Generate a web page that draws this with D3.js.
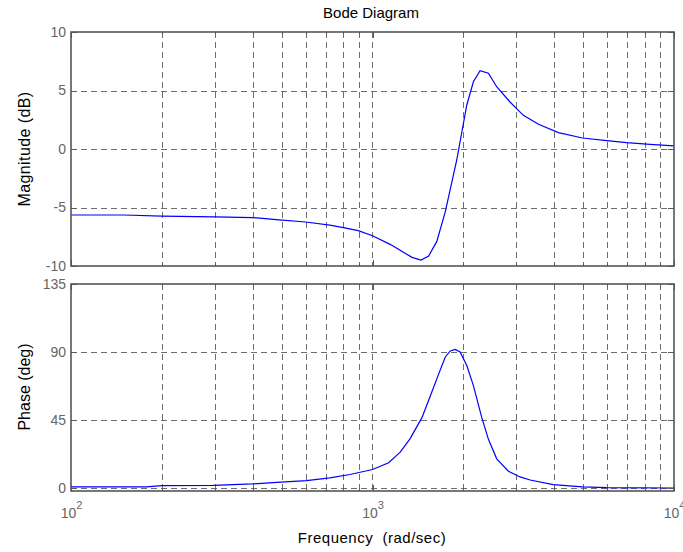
<!DOCTYPE html>
<html>
<head>
<meta charset="utf-8">
<script src="https://cdn.jsdelivr.net/npm/d3@7"></script>
<style>
  body { margin: 0; background: #fff; }
  svg { display: block; font-family: "Liberation Sans", Arial, sans-serif; }
  .grid line { stroke: #6e6e6e; stroke-width: 1; stroke-dasharray: 6,4; shape-rendering: crispEdges; }
  .axis path { display: none; }
  .axis line { stroke: #5a5a5a; shape-rendering: crispEdges; }
  .axis text { fill: #666; font-size: 14px; font-family: "Liberation Sans", Arial, sans-serif; }
</style>
</head>
<body>
<svg id="chart" width="683" height="552"></svg>
<script>
// -- magnitude readings --
const magFreq = [100, 150, 200, 300, 400, 480, 600, 722, 800, 897, 1000, 1144, 1352, 1448, 1535, 1633, 1744, 1903,
  2055, 2161, 2274, 2424, 2582, 2853, 3165, 3553, 4136, 4972, 5980, 6963, 8328, 10000];
const magDb = [-5.64, -5.64, -5.74, -5.8, -5.86, -6.03, -6.24, -6.5, -6.72, -6.98, -7.41, -8.15, -9.26, -9.49, -9.15, -7.92, -5.36, -0.94,
  3.76, 5.75, 6.7, 6.47, 5.32, 4.04, 2.88, 2.11, 1.4, 0.94, 0.72, 0.55, 0.4, 0.26];

// -- phase readings --
const phaseFreq = [100, 178, 200, 296, 400, 482, 604, 722, 842, 1000, 1131, 1236, 1333, 1460, 1556, 1658, 1744, 1811, 1880,
  1952, 2055, 2161, 2303, 2424, 2582, 2824, 3088, 3333, 3977, 4972, 5980, 10000];
const phaseDeg = [0.7, 0.7, 1.5, 1.7, 2.7, 3.7, 4.9, 6.7, 8.9, 12.2, 16.7, 23.7, 32.7, 46.7, 61, 75.5, 86.7, 90.7, 91.7,
  90, 81, 67.7, 46.7, 32.2, 19.3, 11.1, 7.3, 5.3, 2.2, 0.7, 0.2, 0];

// -- ticks --
const decades = [100, 1000, 10000];
const minorFreq = [200, 300, 400, 500, 600, 700, 800, 900, 2000, 3000, 4000, 5000, 6000, 7000, 8000, 9000];
const magTicks = [-10, -5, 0, 5, 10];
const phaseTicks = [0, 45, 90, 135];

const svg = d3.select("#chart");
const left = 71, right = 674;

const x = d3.scaleLog().domain([100, 10000]).range([left, right]);
const yMag = d3.scaleLinear().domain([-10, 10]).range([266, 32]);
const yPh = d3.scaleLinear().domain([-2, 135]).range([491, 284]);

function panel(y, yTicks, xs, ys, xLabels) {
  const top = y.range()[1], bottom = y.range()[0];
  const g = svg.append("g");

  // grid
  const grid = g.append("g").attr("class", "grid");
  grid.selectAll(".vx").data(minorFreq.concat([1000])).enter().append("line")
    .attr("x1", d => Math.round(x(d)) + 0.5).attr("x2", d => Math.round(x(d)) + 0.5)
    .attr("y1", top).attr("y2", bottom);
  grid.selectAll(".hy").data(yTicks.filter(v => y(v) > top + 1 && y(v) < bottom - 1)).enter().append("line")
    .attr("x1", left).attr("x2", right)
    .attr("y1", d => Math.round(y(d)) + 0.5).attr("y2", d => Math.round(y(d)) + 0.5);

  // curve
  const line = d3.line().x(d => x(d[0])).y(d => y(d[1]));
  g.append("path")
    .datum(xs.map((f, i) => [f, ys[i]]))
    .attr("d", line)
    .attr("fill", "none")
    .attr("stroke", "#0000ff")
    .attr("stroke-width", 1.2);

  // ticks, inward
  const axB = g.append("g").attr("class", "axis").attr("transform", `translate(0,${bottom})`)
    .call(d3.axisBottom(x).tickValues(decades).tickSize(-6).tickFormat(""));
  g.append("g").attr("class", "axis").attr("transform", `translate(0,${bottom})`)
    .call(d3.axisBottom(x).tickValues(minorFreq).tickSize(-3).tickFormat(""));
  g.append("g").attr("class", "axis").attr("transform", `translate(0,${top})`)
    .call(d3.axisTop(x).tickValues(decades).tickSize(-6).tickFormat(""));
  g.append("g").attr("class", "axis").attr("transform", `translate(0,${top})`)
    .call(d3.axisTop(x).tickValues(minorFreq).tickSize(-3).tickFormat(""));
  g.append("g").attr("class", "axis").attr("transform", `translate(${left},0)`)
    .call(d3.axisLeft(y).tickValues(yTicks).tickSize(-6).tickPadding(5).tickFormat(d => String(d)));
  g.append("g").attr("class", "axis").attr("transform", `translate(${right},0)`)
    .call(d3.axisRight(y).tickValues(yTicks).tickSize(-6).tickFormat(""));

  if (xLabels) {
    axB.selectAll(".tick text").each(function (d) {
      const t = d3.select(this).attr("dy", null).attr("y", 27);
      t.append("tspan").text("10");
      t.append("tspan").attr("dy", -9).attr("font-size", "11px").text(Math.round(Math.log10(d)));
    });
  }

  // frame
  g.append("rect")
    .attr("x", left).attr("y", top)
    .attr("width", right - left).attr("height", bottom - top)
    .attr("fill", "none").attr("stroke", "#555").attr("stroke-width", 1.6);
}

panel(yMag, magTicks, magFreq, magDb, false);
panel(yPh, phaseTicks, phaseFreq, phaseDeg, true);

// titles
svg.append("text").attr("x", 371).attr("y", 18).attr("text-anchor", "middle")
  .attr("font-size", "15px").attr("fill", "#000").text("Bode Diagram");
svg.append("text").attr("x", 372).attr("y", 543).attr("text-anchor", "middle")
  .attr("font-size", "15px").attr("letter-spacing", "0.5px").attr("fill", "#000")
  .attr("xml:space", "preserve").text("Frequency  (rad/sec)");
svg.append("text").attr("transform", "translate(30,149) rotate(-90)").attr("text-anchor", "middle")
  .attr("font-size", "16px").attr("letter-spacing", "0.4px").attr("fill", "#000").text("Magnitude (dB)");
svg.append("text").attr("transform", "translate(30,387) rotate(-90)").attr("text-anchor", "middle")
  .attr("font-size", "16px").attr("fill", "#000").text("Phase (deg)");
</script>
</body>
</html>
